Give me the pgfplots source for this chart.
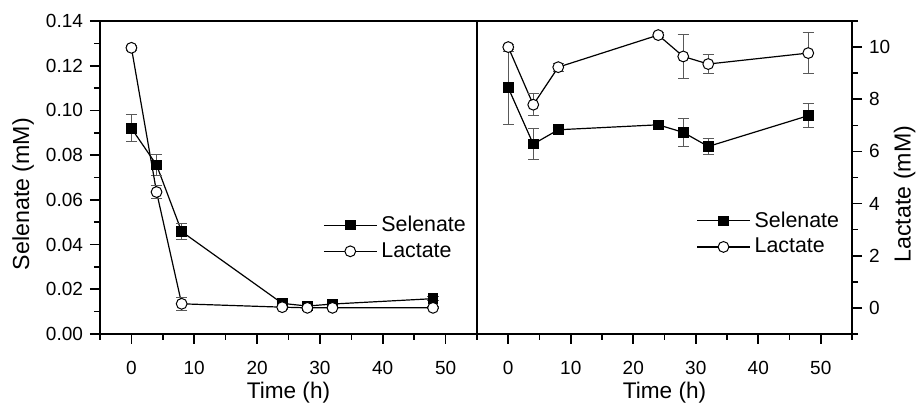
\documentclass[border=0pt]{standalone}
\usepackage{fontspec}
\setmainfont{Liberation Sans}
\usepackage{pgfplots}
\pgfplotsset{compat=1.18}
\begin{document}
\begin{tikzpicture}
\path[use as bounding box] (0,0) rectangle (458.5pt,203pt);
\pgfplotsset{
  common/.style={
    scale only axis, height=156.5pt,
    xmin=-5, xmax=55, xtick={0,10,...,50}, minor xtick={-5,5,...,55},
    tick align=outside, major tick length=5pt, minor tick length=3pt,
    axis line style={line width=0.9pt},
    every tick/.style={black, line width=0.8pt},
    /pgf/number format/assume math mode=true,
    ticklabel style={font=\fontsize{9.5}{11}\selectfont},
    xticklabel style={yshift=-5pt},
    xlabel={Time (h)},
    every axis x label/.style={at={(rel axis cs:0.5,-0.1885)}, anchor=center, font=\fontsize{11.3}{13}\selectfont},
    legend style={draw=none, fill=none, font=\fontsize{10.7}{13.3}\selectfont, anchor=north west},
    legend cell align=left,
  },
  limg/.style={legend image code/.code={\draw[mark repeat=2,mark phase=2] plot coordinates {(0pt,0pt)(13.25pt,0pt)(26.5pt,0pt)};}},
  sel/.style={black, line width=0.6pt, mark=square*, mark size=2.4pt, mark options={solid, fill=black, line width=0.5pt},
    limg,
    error bars/y dir=both, error bars/y explicit,
    error bars/error bar style={gray!70!black, line width=0.5pt},
    error bars/error mark options={rotate=90, mark size=2.8pt, gray!70!black, line width=0.5pt}},
  lac/.style={black, line width=0.6pt, mark=*, mark size=2.7pt, mark options={solid, fill=white, line width=0.5pt},
    limg,
    error bars/y dir=both, error bars/y explicit,
    error bars/error bar style={gray!70!black, line width=0.5pt},
    error bars/error mark options={rotate=90, mark size=2.8pt, gray!70!black, line width=0.5pt}},
}
\begin{axis}[common, at={(50pt,36pt)}, anchor=south west, width=188.5pt,
  ymin=0, ymax=0.14, ytick={0,0.02,...,0.14}, minor ytick={0.01,0.03,...,0.13},
  tick pos=left,
  yticklabel style={/pgf/number format/fixed, /pgf/number format/fixed zerofill, /pgf/number format/precision=2},
  ylabel={Selenate (mM)},
  every axis y label/.style={at={(rel axis cs:-0.2042,0.447)}, anchor=center, rotate=90, font=\fontsize{11.6}{13}\selectfont},
  legend style={at={(rel axis cs:0.575,0.404)}},
]
\addplot[sel] table[x=t, y=v, y error=e] {
t v e
0 0.0920 0.0060
4 0.0756 0.0045
8 0.0458 0.0035
24 0.0137 0.0010
28 0.0125 0.0010
32 0.0134 0.0010
48 0.0158 0.0010
};
\addlegendentry{Selenate}
\addplot[lac] table[x=t, y=v, y error=e] {
t v e
0 0.1280 0.0010
4 0.0635 0.0030
8 0.0135 0.0030
24 0.0120 0.0010
28 0.0117 0.0010
32 0.0117 0.0005
48 0.0117 0.0005
};
\addlegendentry{Lactate}
\end{axis}
\begin{axis}[common, at={(238.5pt,36pt)}, anchor=south west, width=187.5pt,
  ymin=-1, ymax=11, ytick={0,2,...,10}, minor ytick={-1,1,...,11},
  xtick pos=left, ytick pos=right, yticklabel pos=right,
  ylabel={Lactate (mM)},
  every axis y label/.style={at={(rel axis cs:1.14,0.447)}, anchor=center, rotate=90, font=\fontsize{11.6}{13}\selectfont},
  legend style={at={(rel axis cs:0.568,0.418)}},
]
\addplot[sel] table[x=t, y=v, y error=e] {
t v e
0 8.44 1.40
4 6.28 0.60
8 6.83 0.10
24 7.02 0.10
28 6.73 0.55
32 6.19 0.30
48 7.37 0.45
};
\addlegendentry{Selenate}
\addplot[lac] table[x=t, y=v, y error=e] {
t v e
0 10.00 0.10
4 7.79 0.43
8 9.23 0.15
24 10.46 0.10
28 9.64 0.86
32 9.35 0.38
48 9.77 0.80
};
\addlegendentry{Lactate}
\end{axis}
\end{tikzpicture}
\end{document}
